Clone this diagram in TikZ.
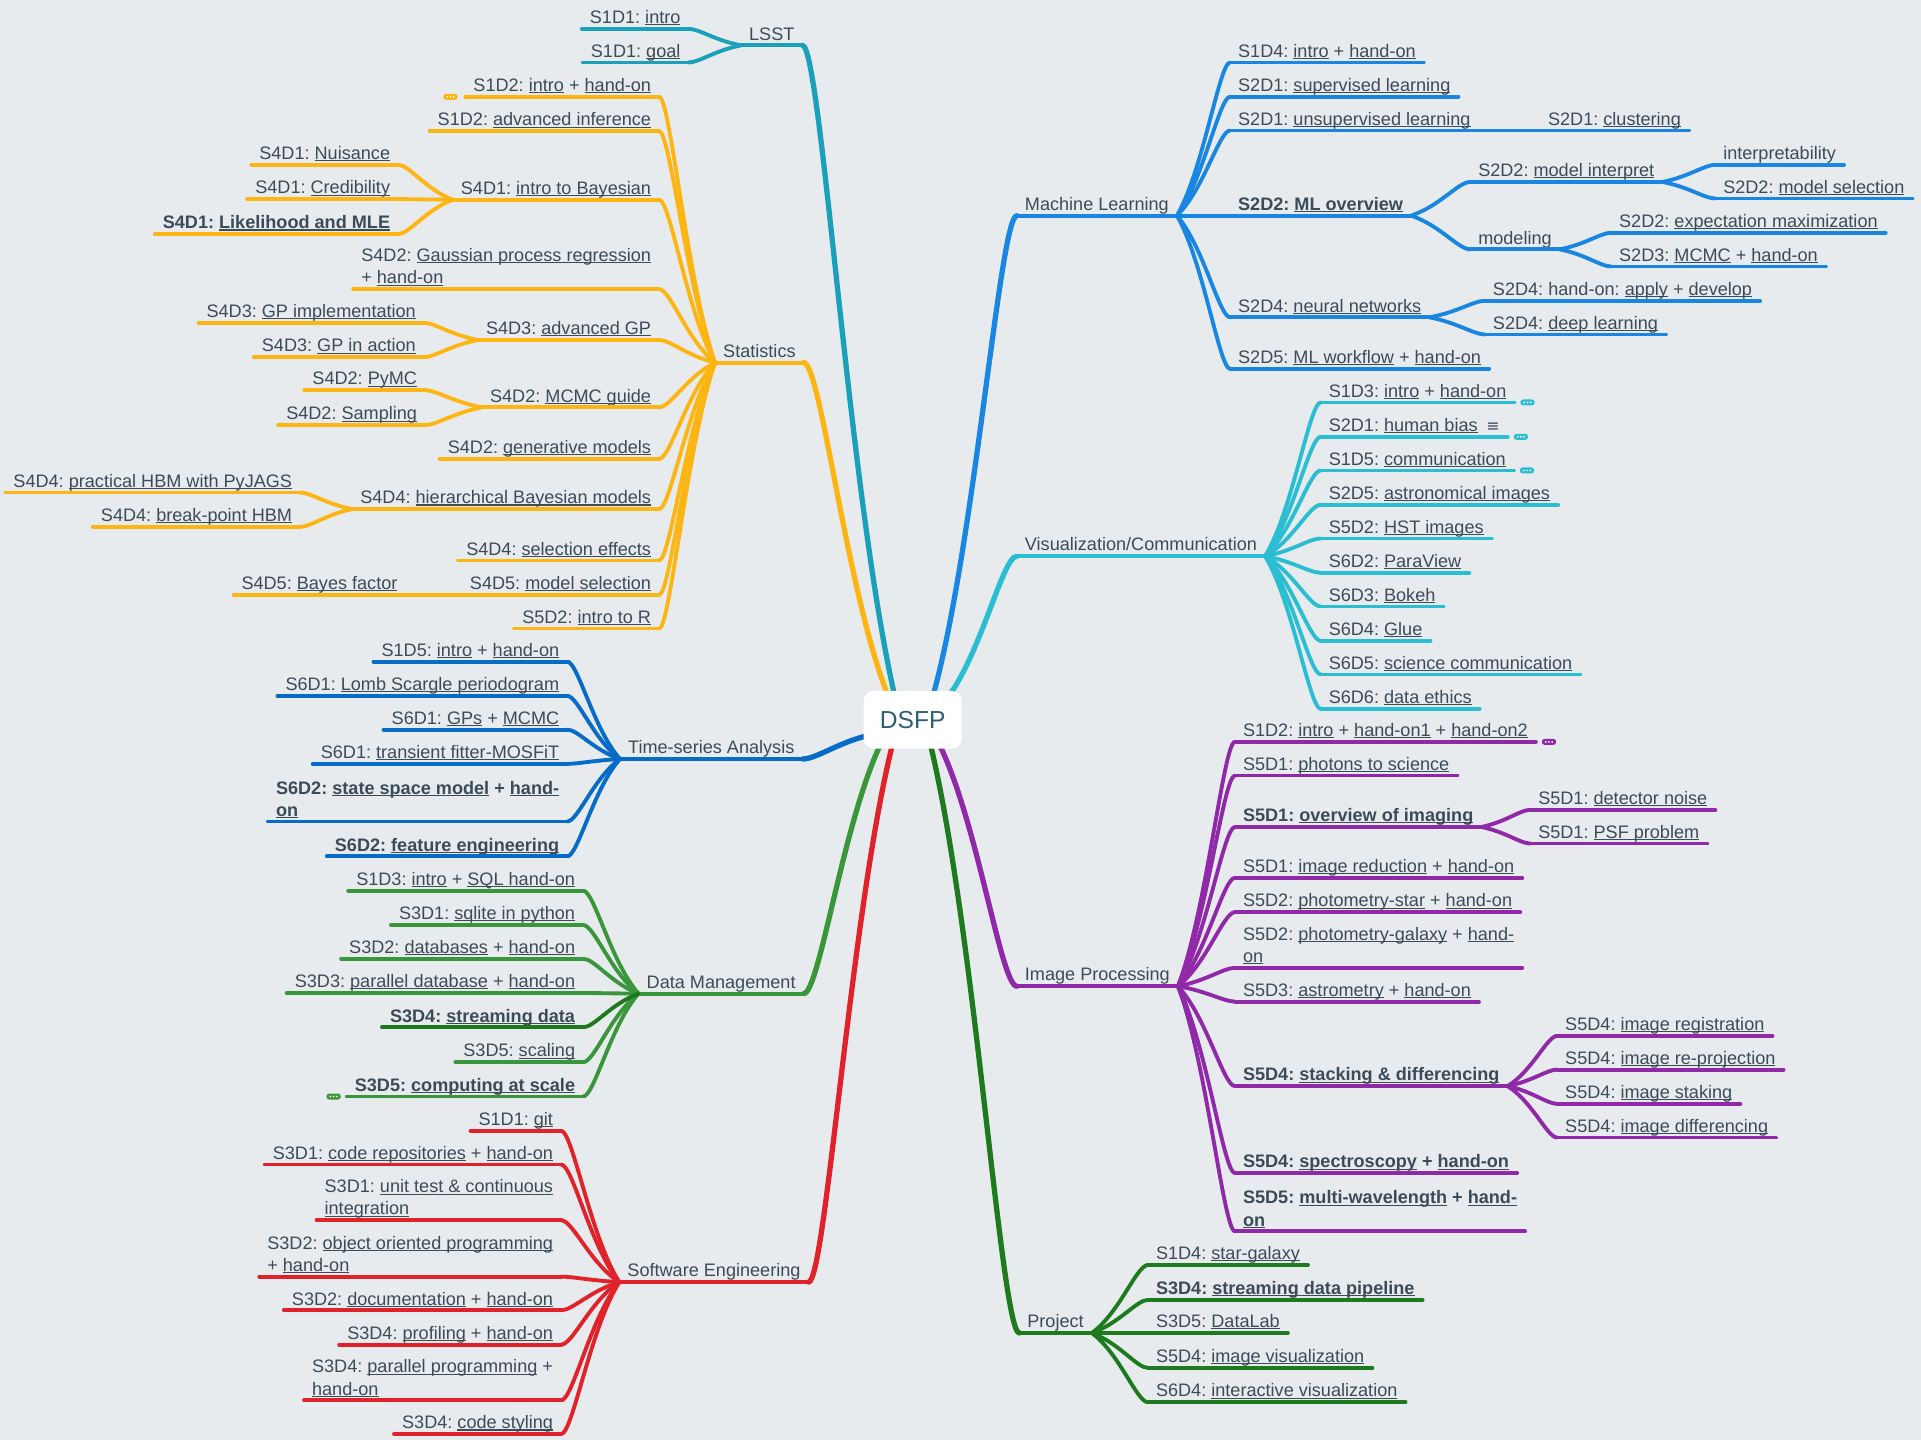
\documentclass[tikz,border=0pt]{standalone}
\usepackage{fontspec}
\setmainfont{Liberation Sans}
\newfontfamily\iconfont{DejaVu Sans}
\usepackage{tikz}
\usetikzlibrary{positioning,calc,backgrounds}
\usepackage{xcolor}
\definecolor{paper}{HTML}{E8EBEE}
\definecolor{ink}{HTML}{3C4B58}
\definecolor{hubink}{HTML}{2E5E72}
\definecolor{cLsst}{HTML}{1AA0B8}
\definecolor{cStat}{HTML}{FDB514}
\definecolor{cTsa}{HTML}{076BC8}
\definecolor{cDm}{HTML}{3A963A}
\definecolor{cDmDark}{HTML}{1E781E}
\definecolor{cSe}{HTML}{E0222A}
\definecolor{cMl}{HTML}{1987E1}
\definecolor{cVis}{HTML}{2BBDD2}
\definecolor{cIp}{HTML}{8F29A8}
\definecolor{cPrj}{HTML}{1E7A1E}
\pgfdeclarelayer{canvas}
\pgfsetlayers{canvas,background,main}
\frenchspacing
\newcommand{\mapfont}{\fontsize{5.15pt}{6.3pt}\selectfont}
\newcommand{\ulink}[1]{\setbox0=\hbox{#1}\rlap{\rule[-0.5pt]{\wd0}{0.3pt}}\box0\relax}

\begin{document}
\begin{tikzpicture}[
  x=0.012251cm, y=-0.012251cm,
  font=\mapfont,
  topic/.style={text=ink,inner xsep=2.3pt,inner ysep=1.5pt,text depth=0pt,outer sep=0pt,align=left,
    append after command={(\tikzlastnode.south west) edge[draw=#1,line width=1.1pt,line cap=round] (\tikzlastnode.south east)}},
  lft/.style={topic=#1,anchor=south east},
  rgt/.style={topic=#1,anchor=south west},
  lnk/.style={line width=1.1pt,line cap=round,
    to path={let \p1=(\tikztostart), \p2=(\tikztotarget) in
      .. controls ({\x1+0.5*(\x2-\x1)},{\y1+0.3*(\y2-\y1)}) and ({\x2-0.2*(\x2-\x1)},\y2) .. (\p2)}},
  brn/.style={lnk,line width=1.5pt},
  badge/.style={fill=#1,rounded corners=0.8pt,minimum width=0.143cm,minimum height=0.06cm,inner sep=0pt,
    path picture={\foreach \d in {-1,0,1} \fill[white] ([xshift=\d*0.032cm]path picture bounding box.center) circle (0.28pt);}},
  hub/.style={fill=white,rounded corners=2.8pt,minimum width=0.98cm,minimum height=0.576cm,inner sep=0pt,
    font=\fontsize{7pt}{8pt}\selectfont,text=hubink}
]
\begin{pgfonlayer}{canvas}
  \fill[paper] (0,0) rectangle (1568,1175);
\end{pgfonlayer}
\useasboundingbox (0,0) rectangle (1568,1175);

% ---------------- centre
\node[hub] (dsfp) at (745,587.5) {DSFP};

% ---------------- LSST
\node[lft=cLsst] (lsst) at (655,37) {LSST};
\node[lft=cLsst] (l1) at (562,23.5) {S1D1: \ulink{intro}};
\node[lft=cLsst] (l2) at (562,51) {S1D1: \ulink{goal}};
\foreach \c in {l1,l2} \draw[lnk,cLsst] (lsst.south west) to (\c.south east);

% ---------------- Statistics
\node[lft=cStat] (stat) at (656,296) {Statistics};
\node[lft=cStat] (s1) at (538,79) {S1D2: \ulink{intro} + \ulink{hand-on}};
\node[lft=cStat] (s2) at (538,107) {S1D2: \ulink{advanced inference}};
\node[lft=cStat] (s3) at (538,163) {S4D1: \ulink{intro to Bayesian}};
\node[lft=cStat] (s3a) at (325,134.5) {S4D1: \ulink{Nuisance}};
\node[lft=cStat] (s3b) at (325,162.5) {S4D1: \ulink{Credibility}};
\node[lft=cStat] (s3c) at (325,191) {\textbf{S4D1: \ulink{Likelihood and MLE}}};
\node[lft=cStat] (s4) at (538,236) {S4D2: \ulink{Gaussian process regression}\\+ \ulink{hand-on}};
\node[lft=cStat] (s5) at (538,277.5) {S4D3: \ulink{advanced GP}};
\node[lft=cStat] (s5a) at (346,263.5) {S4D3: \ulink{GP implementation}};
\node[lft=cStat] (s5b) at (346,291.5) {S4D3: \ulink{GP in action}};
\node[lft=cStat] (s6) at (538,332.5) {S4D2: \ulink{MCMC guide}};
\node[lft=cStat] (s6a) at (347,318.5) {S4D2: \ulink{PyMC}};
\node[lft=cStat] (s6b) at (347,347) {S4D2: \ulink{Sampling}};
\node[lft=cStat] (s7) at (538,374.5) {S4D2: \ulink{generative models}};
\node[lft=cStat] (s8) at (538,415.5) {S4D4: \ulink{hierarchical Bayesian models}};
\node[lft=cStat] (s8a) at (245,402) {S4D4: \ulink{practical HBM with PyJAGS}};
\node[lft=cStat] (s8b) at (245,430) {S4D4: \ulink{break-point HBM}};
\node[lft=cStat] (s9) at (538,457.5) {S4D4: \ulink{selection effects}};
\node[lft=cStat] (s10) at (538,485.5) {S4D5: \ulink{model selection}};
\node[lft=cStat] (s10a) at (331,485.5) {S4D5: \ulink{Bayes factor}};
\node[lft=cStat] (s11) at (538,513) {S5D2: \ulink{intro to R}};
\node[badge=cStat,left=2pt of s1.south west] (s1b) {};
\foreach \c in {s1,s2,s3,s4,s5,s6,s7,s8,s9,s10,s11} \draw[lnk,cStat] (stat.south west) to (\c.south east);
\foreach \p/\c in {s3/s3a,s3/s3b,s3/s3c,s5/s5a,s5/s5b,s6/s6a,s6/s6b,s8/s8a,s8/s8b,s10/s10a}
  \draw[lnk,cStat] (\p.south west) to (\c.south east);

% ---------------- Time-series Analysis
\node[lft=cTsa] (tsa) at (655,619.5) {Time-series Analysis};
\node[lft=cTsa] (t1) at (463,540) {S1D5: \ulink{intro} + \ulink{hand-on}};
\node[lft=cTsa] (t2) at (463,568) {S6D1: \ulink{Lomb Scargle periodogram}};
\node[lft=cTsa] (t3) at (463,595.5) {S6D1: \ulink{GPs} + \ulink{MCMC}};
\node[lft=cTsa] (t4) at (463,623.5) {S6D1: \ulink{transient fitter-MOSFiT}};
\node[lft=cTsa] (t5) at (463,670.5) {\textbf{S6D2: \ulink{state space model} + \ulink{hand-}}\\\textbf{\ulink{on}}};
\node[lft=cTsa] (t6) at (463,699) {\textbf{S6D2: \ulink{feature engineering}}};
\foreach \c in {t1,t2,t3,t4,t5,t6} \draw[lnk,cTsa] (tsa.south west) to (\c.south east);

% ---------------- Data Management
\node[lft=cDm] (dm) at (656,811) {Data Management};
\node[lft=cDm] (d1) at (476,727) {S1D3: \ulink{intro} + \ulink{SQL hand-on}};
\node[lft=cDm] (d2) at (476,755) {S3D1: \ulink{sqlite in python}};
\node[lft=cDm] (d3) at (476,782.5) {S3D2: \ulink{databases} + \ulink{hand-on}};
\node[lft=cDm] (d4) at (476,810.5) {S3D3: \ulink{parallel database} + \ulink{hand-on}};
\node[lft=cDmDark] (d5) at (476,838.5) {\textbf{S3D4: \ulink{streaming data}}};
\node[lft=cDm] (d6) at (476,867) {S3D5: \ulink{scaling}};
\node[lft=cDm] (d7) at (476,895) {\textbf{S3D5: \ulink{computing at scale}}};
\node[badge=cDm,left=1.5pt of d7.south west] (d7b) {};
\foreach \c in {d1,d2,d3,d4,d6,d7} \draw[lnk,cDm] (dm.south west) to (\c.south east);
\draw[lnk,cDmDark] (dm.south west) to (d5.south east);

% ---------------- Software Engineering
\node[lft=cSe] (se) at (660,1046.5) {Software Engineering};
\node[lft=cSe] (e1) at (458,923) {S1D1: \ulink{git}};
\node[lft=cSe] (e2) at (458,950.5) {S3D1: \ulink{code repositories} + \ulink{hand-on}};
\node[lft=cSe] (e3) at (458,996) {S3D1: \ulink{unit test \& continuous}\\\ulink{integration}};
\node[lft=cSe] (e4) at (458,1042) {S3D2: \ulink{object oriented programming}\\+ \ulink{hand-on}};
\node[lft=cSe] (e5) at (458,1069.5) {S3D2: \ulink{documentation} + \ulink{hand-on}};
\node[lft=cSe] (e6) at (458,1097.5) {S3D4: \ulink{profiling} + \ulink{hand-on}};
\node[lft=cSe] (e7) at (458,1143) {S3D4: \ulink{parallel programming} +\\\ulink{hand-on}};
\node[lft=cSe] (e8) at (458,1170.5) {S3D4: \ulink{code styling}};
\foreach \c in {e1,e2,e3,e4,e5,e6,e7,e8} \draw[lnk,cSe] (se.south west) to (\c.south east);

% ---------------- Machine Learning
\node[rgt=cMl] (ml) at (830,176) {Machine Learning};
\node[rgt=cMl] (m1) at (1004,51) {S1D4: \ulink{intro} + \ulink{hand-on}};
\node[rgt=cMl] (m2) at (1004,79) {S2D1: \ulink{supervised learning}};
\node[rgt=cMl] (m3) at (1004,106.5) {S2D1: \ulink{unsupervised learning}};
\node[rgt=cMl] (m3a) at (1257,106.5) {S2D1: \ulink{clustering}};
\node[rgt=cMl] (m4) at (1004,176) {\textbf{S2D2: \ulink{ML overview}}};
\node[rgt=cMl] (m4a) at (1200,148.5) {S2D2: \ulink{model interpret}};
\node[rgt=cMl] (m4a1) at (1400,134.5) {interpretability};
\node[rgt=cMl] (m4a2) at (1400,162) {S2D2: \ulink{model selection}};
\node[rgt=cMl] (m4b) at (1200,203.5) {modeling};
\node[rgt=cMl] (m4b1) at (1315,190) {S2D2: \ulink{expectation maximization}};
\node[rgt=cMl] (m4b2) at (1315,217.5) {S2D3: \ulink{MCMC} + \ulink{hand-on}};
\node[rgt=cMl] (m5) at (1004,259) {S2D4: \ulink{neural networks}};
\node[rgt=cMl] (m5a) at (1212,245.5) {S2D4: hand-on: \ulink{apply} + \ulink{develop}};
\node[rgt=cMl] (m5b) at (1212,273) {S2D4: \ulink{deep learning}};
\node[rgt=cMl] (m6) at (1004,301) {S2D5: \ulink{ML workflow} + \ulink{hand-on}};
\foreach \c in {m1,m2,m3,m4,m5,m6} \draw[lnk,cMl] (ml.south east) to (\c.south west);
\foreach \p/\c in {m3/m3a,m4/m4a,m4/m4b,m4a/m4a1,m4a/m4a2,m4b/m4b1,m4b/m4b2,m5/m5a,m5/m5b}
  \draw[lnk,cMl] (\p.south east) to (\c.south west);

% ---------------- Visualization/Communication
\node[rgt=cVis] (vis) at (830,454) {Visualization/Communication};
\node[rgt=cVis] (v1) at (1078,328.5) {S1D3: \ulink{intro} + \ulink{hand-on}};
\node[rgt=cVis] (v2) at (1078,356.5) {S2D1: \ulink{human bias}\hspace{2.5pt}{\iconfont\fontsize{4.5pt}{4.5pt}\selectfont ≡}};
\node[rgt=cVis] (v3) at (1078,384) {S1D5: \ulink{communication}};
\node[rgt=cVis] (v4) at (1078,412) {S2D5: \ulink{astronomical images}};
\node[rgt=cVis] (v5) at (1078,439.5) {S5D2: \ulink{HST images}};
\node[rgt=cVis] (v6) at (1078,467.5) {S6D2: \ulink{ParaView}};
\node[rgt=cVis] (v7) at (1078,495) {S6D3: \ulink{Bokeh}};
\node[rgt=cVis] (v8) at (1078,523) {S6D4: \ulink{Glue}};
\node[rgt=cVis] (v9) at (1078,550.5) {S6D5: \ulink{science communication}};
\node[rgt=cVis] (v10) at (1078,578.5) {S6D6: \ulink{data ethics}};
\foreach \c in {v1,v2,v3} \node[badge=cVis,right=1.5pt of \c.south east] (\c b) {};
\foreach \c in {v1,v2,v3,v4,v5,v6,v7,v8,v9,v10} \draw[lnk,cVis] (vis.south east) to (\c.south west);

% ---------------- Image Processing
\node[rgt=cIp] (ip) at (830,805) {Image Processing};
\node[rgt=cIp] (i1) at (1008,605.5) {S1D2: \ulink{intro} + \ulink{hand-on1} + \ulink{hand-on2}};
\node[rgt=cIp] (i2) at (1008,633) {S5D1: \ulink{photons to science}};
\node[rgt=cIp] (i3) at (1008,675) {\textbf{S5D1: \ulink{overview of imaging}}};
\node[rgt=cIp] (i3a) at (1249,661) {S5D1: \ulink{detector noise}};
\node[rgt=cIp] (i3b) at (1249,688.5) {S5D1: \ulink{PSF problem}};
\node[rgt=cIp] (i4) at (1008,716.5) {S5D1: \ulink{image reduction} + \ulink{hand-on}};
\node[rgt=cIp] (i5) at (1008,744.5) {S5D2: \ulink{photometry-star} + \ulink{hand-on}};
\node[rgt=cIp] (i6) at (1008,790) {S5D2: \ulink{photometry-galaxy} + \ulink{hand-}\\\ulink{on}};
\node[rgt=cIp] (i7) at (1008,817.5) {S5D3: \ulink{astrometry} + \ulink{hand-on}};
\node[rgt=cIp] (i8) at (1008,886.5) {\textbf{S5D4: \ulink{stacking \& differencing}}};
\node[rgt=cIp] (i8a) at (1271,845.5) {S5D4: \ulink{image registration}};
\node[rgt=cIp] (i8b) at (1271,873) {S5D4: \ulink{image re-projection}};
\node[rgt=cIp] (i8c) at (1271,901) {S5D4: \ulink{image staking}};
\node[rgt=cIp] (i8d) at (1271,928.5) {S5D4: \ulink{image differencing}};
\node[rgt=cIp] (i9) at (1008,957.5) {\textbf{S5D4: \ulink{spectroscopy} + \ulink{hand-on}}};
\node[rgt=cIp] (i10) at (1008,1005) {\textbf{S5D5: \ulink{multi-wavelength} + \ulink{hand-}}\\\textbf{\ulink{on}}};
\node[badge=cIp,right=1.5pt of i1.south east] (i1b) {};
\foreach \c in {i1,i2,i3,i4,i5,i6,i7,i8,i9,i10} \draw[lnk,cIp] (ip.south east) to (\c.south west);
\foreach \p/\c in {i3/i3a,i3/i3b,i8/i8a,i8/i8b,i8/i8c,i8/i8d} \draw[lnk,cIp] (\p.south east) to (\c.south west);

% ---------------- Project
\node[rgt=cPrj] (prj) at (832,1088) {Project};
\node[rgt=cPrj] (p1) at (937,1032.5) {S1D4: \ulink{star-galaxy}};
\node[rgt=cPrj] (p2) at (937,1061) {\textbf{S3D4: \ulink{streaming data pipeline}}};
\node[rgt=cPrj] (p3) at (937,1088) {S3D5: \ulink{DataLab}};
\node[rgt=cPrj] (p4) at (937,1116.5) {S5D4: \ulink{image visualization}};
\node[rgt=cPrj] (p5) at (937,1144.5) {S6D4: \ulink{interactive visualization}};
\foreach \c in {p1,p2,p3,p4,p5} \draw[lnk,cPrj] (prj.south east) to (\c.south west);

% ---------------- main branches, under the hub
\begin{scope}[on background layer]
  \draw[brn,cLsst] ([xshift=-0.165cm,yshift=-0.12cm]dsfp.north) to (lsst.south east);
  \draw[brn,cStat] ([xshift=-0.22cm,yshift=-0.12cm]dsfp.north) to (stat.south east);
  \draw[brn,cTsa] ([xshift=0.12cm,yshift=-0.14cm]dsfp.west) to (tsa.south east);
  \draw[brn,cDm] ([xshift=-0.287cm,yshift=0.12cm]dsfp.south) to (dm.south east);
  \draw[brn,cSe] ([xshift=-0.184cm,yshift=0.12cm]dsfp.south) to (se.south east);
  \draw[brn,cMl] ([xshift=0.184cm,yshift=-0.12cm]dsfp.north) to (ml.south west);
  \draw[brn,cVis] ([xshift=0.312cm,yshift=-0.12cm]dsfp.north) to (vis.south west);
  \draw[brn,cIp] ([xshift=0.229cm,yshift=0.12cm]dsfp.south) to (ip.south west);
  \draw[brn,cPrj] ([xshift=0.159cm,yshift=0.12cm]dsfp.south) to (prj.south west);
\end{scope}
\end{tikzpicture}
\end{document}
